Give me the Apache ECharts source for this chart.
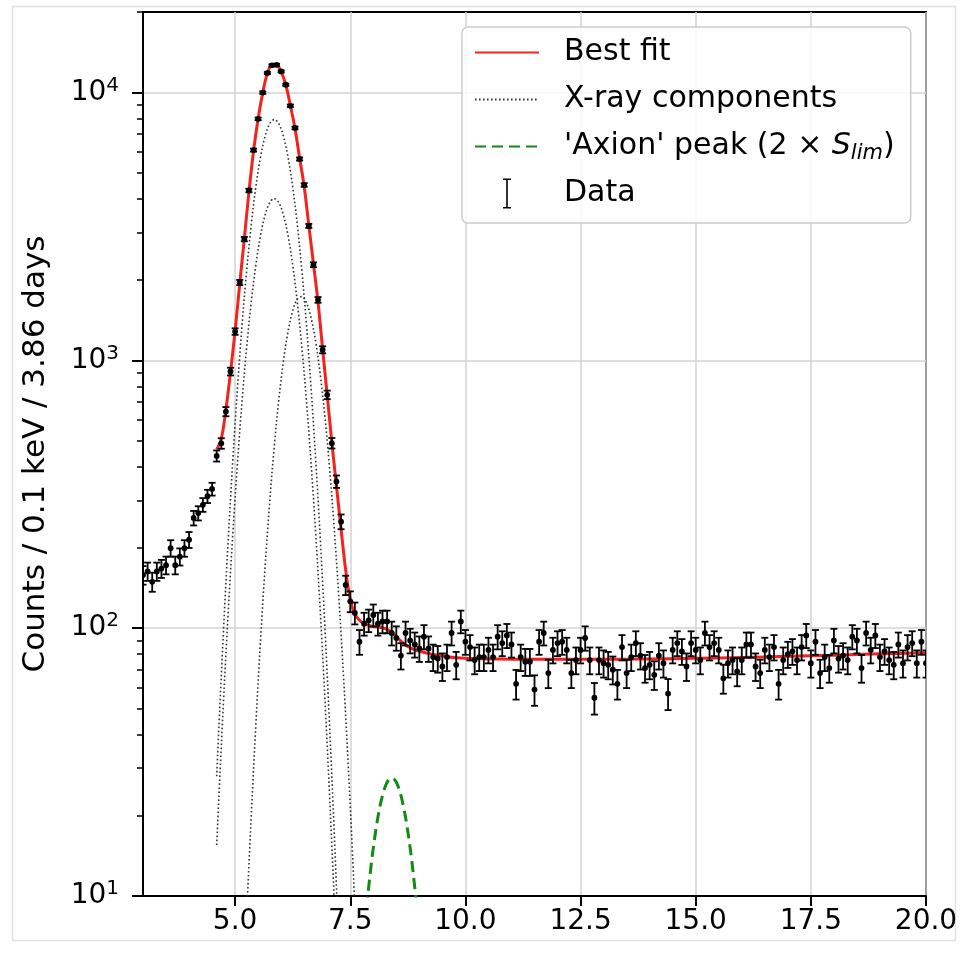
<!DOCTYPE html>
<html><head><meta charset="utf-8">
<script src="https://cdn.jsdelivr.net/npm/echarts@6/dist/echarts.min.js"></script>
<style>html,body{margin:0;padding:0;background:#fff}#c{width:965px;height:955px}</style>
</head><body><div id="c"></div><script>
// ---- data ----
const binStart = 3.0, binWidth = 0.1;
const counts = [
158,163,149,163,167,172,199,172,185,199,
214,258,269,289,311,331,440,490,644,909,
1282,1954,2838,4310,6100,7980,10000,11840,12640,12700,
12000,10700,8930,7380,5650,4520,3180,2276,1683,1096,
744,491,353,250,145,126,114,89,104,107,
112,104,106,106,96,92,79,96,90,87,
84,93,84,78,77,72,78,96,73,106,
89,85,76,78,78,83,78,93,88,94,
87,62,78,75,75,59,89,96,68,83,
88,89,83,68,76,83,92,76,55,76,
74,73,70,62,85,68,78,88,79,71,
73,67,79,74,57,83,88,82,72,88,
83,76,96,85,88,83,65,74,76,69,
76,87,87,72,68,83,78,85,62,76,
80,82,76,85,94,74,89,68,78,71,
90,77,79,76,93,90,71,96,83,94,
78,82,76,73,87,74,85,88,74,89,
74];
const fitX = [4.6,4.7,4.8,4.9,5.0,5.1,5.2,5.3,5.4,5.5,5.6,5.7,5.8,5.9,6.0,6.1,6.2,6.3,6.4,6.5,6.6,6.7,6.8,6.9,7.0,7.1,7.2,7.3,7.4,7.5,7.6,7.7,7.8,7.9,8.0,8.1,8.2,8.3,8.4,8.5,8.6,8.7,8.8,8.9,9.0,9.2,9.4,9.6,9.8,10.0,10.5,11.0,12.0,13.0,14.0,15.0,16.0,17.0,18.0,19.0,20.0];
const fitY = [465,510,655,905,1290,1930,2850,4250,6050,8000,10000,11800,12650,12650,11950,10700,8950,7350,5700,4450,3200,2300,1650,1100,740,495,340,235,165,128,113,107,104,102.5,101.5,101,100.5,99,96.5,93,89.5,86.5,84.5,83,82,80.5,79.2,78.3,77.6,77.2,76.8,76.6,76.5,76.5,76.8,77.2,77.8,78.5,79.3,80.2,81];
const compX = [4.6,4.65,4.75,4.85,4.95,5.05,5.15,5.25,5.35,5.45,5.55,5.65,5.75,5.85,5.95,6.05,6.15,6.25,6.35,6.45,6.55,6.65,6.75,6.85,6.95,7.05,7.15,7.25,7.35,7.45,7.55,7.65];
const kAlpha1 = [28,43.6,100,214,425,785,1350,2159,3213,4448,5728,6863,7649,7930,7649,6863,5728,4448,3213,2159,1350,785,425,214,100,43.6,17.6,6.6,2.3,0.7,0.2,0.05];
const kAlpha2 = [15.5,23.9,54.3,114.7,225,412,703,1117,1652,2275,2919,3487,3879,4020,3879,3487,2919,2275,1652,1117,703,412,225,114.7,54.3,23.9,9.8,3.8,1.3,0.4,0.1,0.03];
const kBeta = [0.005,0.009,0.035,0.12,0.39,1.17,3.26,8.4,19.9,43.7,89.2,168.5,294.8,477.9,717,997,1284,1532,1692,1731,1641,1441,1171,882,615,398,238,132,67.7,32.2,14.2,5.8];
const axionX = [7.7,7.75,7.8,7.85,7.9,7.95,8.0,8.05,8.1,8.15,8.2,8.25,8.3,8.35,8.4,8.45,8.5,8.55,8.6,8.65,8.7,8.75,8.8,8.85,8.9,8.95,9.0,9.05,9.1];
const axionY = [4.37,5.64,7.13,8.85,10.78,12.89,15.12,17.41,19.68,21.82,23.75,25.36,26.58,27.34,27.6,27.34,26.58,25.36,23.75,21.82,19.68,17.41,15.12,12.89,10.78,8.85,7.13,5.64,4.37];
const xTicks = [5, 7.5, 10, 12.5, 15, 17.5, 20];
const yTicks = [10, 100, 1000, 10000];
const yMinorTicks = [20,30,40,50,60,70,80,90,200,300,400,500,600,700,800,900,2000,3000,4000,5000,6000,7000,8000,9000,20000];
const names = { fit: 'Best fit', comp: 'X-ray components', axion: "'Axion' peak (2 × S_lim)", data: 'Data' };

// ---- build ----
const energies = counts.map((c, i) => +(binStart + i * binWidth).toFixed(2));
const dataPts = counts.map((c, i) => [energies[i], c, Math.sqrt(c)]);
const zip = (xs, ys) => xs.map((x, i) => [x, ys[i]]);

const FONT = "'DejaVu Sans', sans-serif";
const supFmt = v => '{b|10}{s|' + Math.round(Math.log10(v)) + '}';

function renderErr(params, api) {
  const x = api.value(0), y = api.value(1), e = api.value(2);
  const p = api.coord([x, y]);
  const t = api.coord([x, y + e]);
  const b = api.coord([x, y - e]);
  const cw = 3.5;
  const st = { stroke: '#000', lineWidth: 1.8 };
  return {
    type: 'group',
    children: [
      { type: 'line', shape: { x1: p[0], y1: t[1], x2: p[0], y2: b[1] }, style: st },
      { type: 'line', shape: { x1: p[0] - cw, y1: t[1], x2: p[0] + cw, y2: t[1] }, style: st },
      { type: 'line', shape: { x1: p[0] - cw, y1: b[1], x2: p[0] + cw, y2: b[1] }, style: st },
      { type: 'circle', shape: { cx: p[0], cy: p[1], r: 2.9 }, style: { fill: '#000' } }
    ]
  };
}

const compStyle = { color: '#333', width: 1.6, type: [1.6, 2.4] };
const hideSym = { opacity: 0 };

const option = {
  animation: false,
  backgroundColor: '#fff',
  textStyle: { fontFamily: FONT },
  graphic: [{
    type: 'rect', silent: true, z: -10,
    shape: { x: 12.5, y: 6.5, width: 943, height: 934 },
    style: { fill: 'none', stroke: '#e2e2e2', lineWidth: 1.5 }
  }],
  grid: { left: 143, right: 39, top: 12, bottom: 59, show: true, borderColor: '#000', borderWidth: 2, backgroundColor: 'transparent' },
  xAxis: {
    type: 'value', min: 3, max: 20,
    axisLine: { show: true, onZero: false, lineStyle: { color: '#000', width: 2 } },
    axisTick: { show: true, inside: false, length: 10, lineStyle: { color: '#000', width: 2 }, customValues: xTicks },
    axisLabel: { customValues: xTicks, formatter: v => v.toFixed(1), fontSize: 28, color: '#000', margin: 12, fontFamily: FONT },
    splitLine: { show: true, lineStyle: { color: '#d3d3d3', width: 1.5 } }
  },
  yAxis: [{
    type: 'log', logBase: 10, min: 10, max: 20000,
    name: 'Counts / 0.1 keV / 3.86 days', nameLocation: 'middle', nameGap: 92, nameRotate: 90,
    nameTextStyle: { fontSize: 31, color: '#000', fontFamily: FONT },
    axisLine: { show: true, onZero: false, lineStyle: { color: '#000', width: 2 } },
    axisTick: { show: true, inside: false, length: 11, lineStyle: { color: '#000', width: 2 }, customValues: yTicks },
    axisLabel: {
      customValues: yTicks, formatter: supFmt, margin: 24, color: '#000',
      rich: {
        b: { fontSize: 28, fontFamily: FONT, color: '#000', lineHeight: 34 },
        s: { fontSize: 20, fontFamily: FONT, color: '#000', lineHeight: 20, verticalAlign: 'top' }
      }
    },
    splitLine: { show: true, lineStyle: { color: '#d3d3d3', width: 1.5 } },
    minorTick: { show: false }
  }, {
    type: 'log', logBase: 10, min: 10, max: 20000, position: 'left',
    axisLine: { show: false },
    axisLabel: { show: false, customValues: yMinorTicks },
    axisTick: { show: true, inside: false, length: 6, lineStyle: { color: '#000', width: 1.5 }, customValues: yMinorTicks },
    splitLine: { show: false }
  }],
  legend: {
    orient: 'vertical', left: 462, top: 27,
    padding: [8, 16, 12, 12], itemGap: 12,
    itemWidth: 64, itemHeight: 30,
    backgroundColor: 'rgba(255,255,255,0.85)', borderColor: '#cccccc', borderWidth: 1.5, borderRadius: 6,
    data: [
      { name: names.fit, itemStyle: hideSym },
      { name: names.comp, itemStyle: hideSym },
      { name: names.axion, itemStyle: hideSym },
      { name: names.data, icon: 'path://M0,0H8V1.6H4.8V28.4H8V30H0V28.4H3.2V1.6H0Z' }
    ],
    formatter: n => n === names.axion ? "'Axion' peak (2 × {i|S}{sub|lim})" : n,
    textStyle: {
      fontSize: 30, color: '#000', fontFamily: FONT, padding: [0, 0, 0, 20], lineHeight: 35,
      rich: {
        i: { fontSize: 30, fontStyle: 'italic', fontFamily: FONT, color: '#000' },
        sub: { fontSize: 21, fontStyle: 'italic', fontFamily: FONT, color: '#000', verticalAlign: 'bottom', lineHeight: 21, padding: [10, 0, 0, 0] }
      }
    }
  },
  series: [
    { name: names.fit, type: 'line', data: zip(fitX, fitY), smooth: 0.35, showSymbol: false, symbol: 'none',
      lineStyle: { color: '#f5211c', width: 3 }, itemStyle: { color: '#f5211c' }, z: 3, clip: true },
    { name: names.comp, type: 'line', data: zip(compX, kAlpha1), smooth: 0.35, symbol: 'none', showSymbol: false,
      lineStyle: compStyle, itemStyle: { color: '#333' }, z: 2, clip: true },
    { name: names.comp, type: 'line', data: zip(compX, kAlpha2), smooth: 0.35, symbol: 'none', showSymbol: false,
      lineStyle: compStyle, itemStyle: { color: '#333' }, z: 2, clip: true },
    { name: names.comp, type: 'line', data: zip(compX, kBeta), smooth: 0.35, symbol: 'none', showSymbol: false,
      lineStyle: compStyle, itemStyle: { color: '#333' }, z: 2, clip: true },
    { name: names.axion, type: 'line', data: zip(axionX, axionY), smooth: 0.35, symbol: 'none', showSymbol: false,
      lineStyle: { color: '#138a13', width: 3, type: [11, 6] }, itemStyle: { color: '#138a13' }, z: 2, clip: true },
    { name: names.data, type: 'custom', data: dataPts, renderItem: renderErr, clip: true,
      encode: { x: 0, y: 1 }, itemStyle: { color: '#000' }, z: 4 }
  ]
};
const chart = echarts.init(document.getElementById('c'), null, { renderer: 'canvas' });
chart.setOption(option);
</script></body></html>
